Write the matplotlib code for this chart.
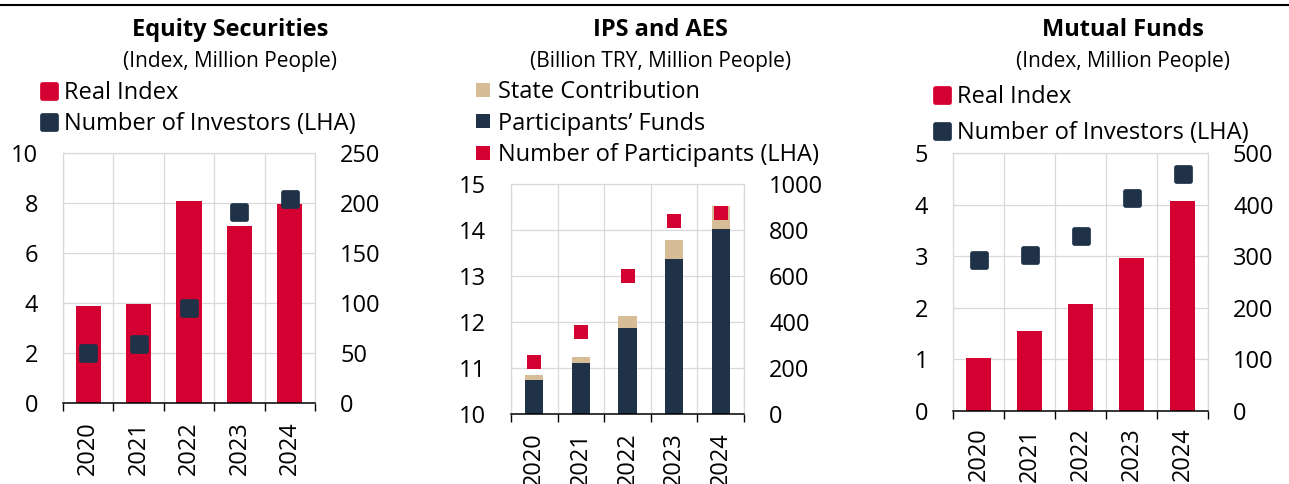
import matplotlib.pyplot as plt
from matplotlib.lines import Line2D
from matplotlib.markers import MarkerStyle
import numpy as np

plt.rcParams['font.family'] = ['Open Sans', 'DejaVu Sans']

W, H = 1289, 484
FS = 17
RED = '#D50032'
NAVY = '#1F3247'
TAN = '#D6BC97'
GRID = '#D9D9D9'

years = ['2020', '2021', '2022', '2023', '2024']

# Equity Securities
eq_index = [3.88, 3.97, 8.1, 7.07, 7.95]
eq_investors = [50, 59, 95, 191, 204]

# IPS and AES
ips_funds = [10.74, 11.11, 11.88, 13.38, 14.02]
ips_state = [0.10, 0.12, 0.26, 0.40, 0.50]
ips_participants = [224, 357, 600, 841, 875]

# Mutual Funds
mf_index = [1.03, 1.55, 2.08, 2.96, 4.07]
mf_investors = [293, 303, 339, 413, 459]


def px_axes(fig, left, top, right, bottom):
    return fig.add_axes([left / W, 1 - bottom / H, (right - left) / W, (bottom - top) / H])


def setup(ax, ylim, yticks, y2lim, y2ticks, xpad=13):
    x = np.arange(len(years))
    ax.set_xlim(-0.5, len(years) - 0.5)
    ax.set_xticks(x)
    ax.set_xticklabels(years, rotation=90)
    ax.set_xticks(np.arange(-0.5, len(years), 1), minor=True)
    ax.tick_params(axis='x', which='major', length=0, pad=xpad, labelsize=FS)
    ax.tick_params(axis='x', which='minor', length=5.8, width=1, color='black', direction='out')
    ax.grid(axis='x', which='minor', color=GRID, lw=0.9)
    ax.grid(axis='y', which='major', color=GRID, lw=0.9)
    ax.set_axisbelow(True)
    ax.set_ylim(*ylim)
    ax.set_yticks(yticks)
    ax.tick_params(axis='y', length=0, pad=18, labelsize=FS)
    for s in ['top', 'left', 'right']:
        ax.spines[s].set_color(GRID)
        ax.spines[s].set_linewidth(0.9)
    ax.spines['bottom'].set_color('black')
    ax.spines['bottom'].set_linewidth(1.1)
    ax.spines['bottom'].set_zorder(5)

    ax2 = ax.twinx()
    ax2.set_ylim(*y2lim)
    ax2.set_yticks(y2ticks)
    ax2.tick_params(axis='y', length=0, pad=18, labelsize=FS)
    for s in ax2.spines.values():
        s.set_visible(False)
    return x, ax2


fig = plt.figure(figsize=(W / 100, H / 100), dpi=100)

fig.add_artist(Line2D([0, 1], [1 - 5 / H, 1 - 5 / H], color='black', lw=1.5,
                      transform=fig.transFigure))

rsq = MarkerStyle('s', joinstyle='round')

# ---- Equity Securities
ax = px_axes(fig, 63, 153, 315, 403)
x, ax2 = setup(ax, (0, 10), range(0, 11, 2), (0, 250), range(0, 251, 50))
ax.bar(x, eq_index, width=0.5, color=RED, zorder=2)
ax2.plot(x, eq_investors, ls='none', marker=rsq, ms=10.5, mew=3.4, color=NAVY, mec=NAVY)
fig.text(230 / W, 1 - 36 / H, 'Equity Securities', ha='center', va='baseline',
         fontsize=FS, fontweight='bold')
fig.text(229.5 / W, 1 - 66.7 / H, '(Index, Million People)', ha='center', va='baseline',
         fontsize=15)
h1 = [Line2D([], [], ls='none', marker=rsq, ms=10.5, mew=3.4, color=c, mec=c) for c in (RED, NAVY)]
fig.legend(h1, ['Real Index', 'Number of Investors (LHA)'], loc='upper left',
           bbox_to_anchor=(40 / W, 1 - 81 / H), frameon=False, borderpad=0, borderaxespad=0,
           handlelength=0.8, handletextpad=0.2, labelspacing=0.3, fontsize=FS)

# ---- IPS and AES
ax = px_axes(fig, 511, 184, 744, 414)
x, ax2 = setup(ax, (10, 15), range(10, 16), (0, 1000), range(0, 1001, 200))
ax.bar(x, np.subtract(ips_funds, 10), bottom=10, width=0.39, color=NAVY, zorder=2)
ax.bar(x, ips_state, bottom=ips_funds, width=0.39, color=TAN, zorder=2)
ax2.plot(x, ips_participants, ls='none', marker='s', ms=10, mew=0, color=RED)
fig.text(660.7 / W, 1 - 36 / H, 'IPS and AES', ha='center', va='baseline',
         fontsize=FS, fontweight='bold')
fig.text(660.3 / W, 1 - 66.7 / H, '(Billion TRY, Million People)', ha='center', va='baseline',
         fontsize=15)
h2 = [Line2D([], [], ls='none', marker='s', ms=10, mew=0, color=c) for c in (TAN, NAVY, RED)]
fig.legend(h2, ['State Contribution', 'Participants\u2019 Funds', 'Number of Participants (LHA)'],
           loc='upper left', bbox_to_anchor=(476 / W, 1 - 80 / H), frameon=False, borderpad=0,
           borderaxespad=0, handlelength=0.6, handletextpad=0.34, labelspacing=0.32, fontsize=FS)

# ---- Mutual Funds
ax = px_axes(fig, 953, 153, 1208, 411)
x, ax2 = setup(ax, (0, 5), range(0, 6), (0, 500), range(0, 501, 100), xpad=12)
ax.bar(x, mf_index, width=0.5, color=RED, zorder=2)
ax2.plot(x, mf_investors, ls='none', marker=rsq, ms=10.5, mew=3.4, color=NAVY, mec=NAVY)
fig.text(1123 / W, 1 - 36 / H, 'Mutual Funds', ha='center', va='baseline',
         fontsize=FS, fontweight='bold')
fig.text(1122.8 / W, 1 - 66.7 / H, '(Index, Million People)', ha='center', va='baseline',
         fontsize=15)
h3 = [Line2D([], [], ls='none', marker=rsq, ms=10.5, mew=3.4, color=c, mec=c) for c in (RED, NAVY)]
fig.legend(h3, ['Real Index', 'Number of Investors (LHA)'], loc='upper left',
           bbox_to_anchor=(933 / W, 1 - 85 / H), frameon=False, borderpad=0, borderaxespad=0,
           handlelength=0.8, handletextpad=0.2, labelspacing=0.5, fontsize=FS)

fig.savefig('out.png', dpi=100)
